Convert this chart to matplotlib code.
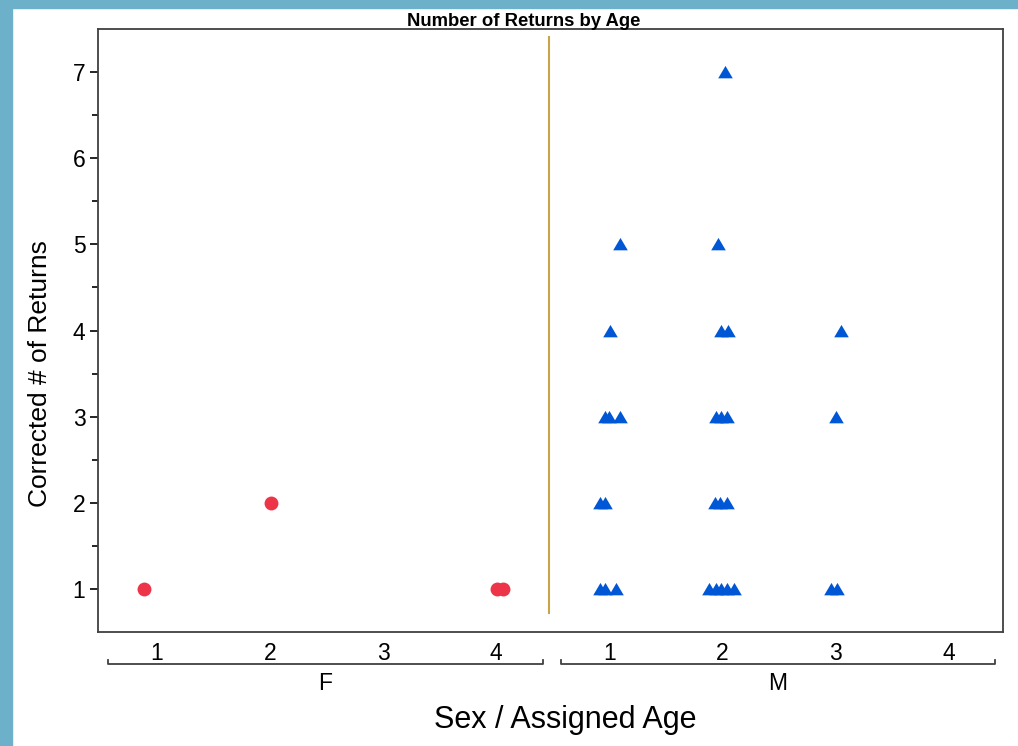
import matplotlib
matplotlib.use("Agg")
import matplotlib.pyplot as plt
import matplotlib.transforms as mtransforms
from matplotlib.patches import Rectangle
import numpy as np

################################################## Data
groups = ["F", "M"]
ages = [1, 2, 3, 4]

# jittered assigned age and corrected # of returns
f_age = [0.885, 2.01, 4.01, 4.06]
f_returns = [1, 2, 1, 1]

m_age = [2.02,
         1.09, 1.96,
         1.01, 1.99, 2.05, 3.05,
         0.96, 1.00, 1.09, 1.94, 1.99, 2.04, 3.00,
         0.92, 0.96, 1.93, 1.98, 2.04,
         0.92, 0.96, 1.06, 1.88, 1.94, 1.99, 2.04, 2.10, 2.96, 3.01]
m_returns = [7,
             5, 5,
             4, 4, 4, 4,
             3, 3, 3, 3, 3, 3, 3,
             2, 2, 2, 2, 2,
             1, 1, 1, 1, 1, 1, 1, 1, 1, 1]

################################################## Style
FONT = "Liberation Sans"
RED = "#ee3448"
BLUE = "#0057d6"
SEP_COLOR = "#c9a54a"
FRAME = "#6cb0c9"
W, H = 1018, 746

plt.rcParams["font.family"] = [FONT, "DejaVu Sans"]

fig = plt.figure(figsize=(W / 100, H / 100), dpi=100)
fig.patch.set_facecolor("white")

# light blue frame on left and top edge
fig.patches.append(Rectangle((0, 0), 12 / W, 1, transform=fig.transFigure,
                             color=FRAME, zorder=0))
fig.patches.append(Rectangle((0, 1 - 8 / H), 1, 8 / H, transform=fig.transFigure,
                             color=FRAME, zorder=0))

ax = fig.add_axes([98 / W, 1 - 632 / H, (1003 - 98) / W, (632 - 29) / H])

n_ages = len(ages)
f_x = np.array(f_age)
m_x = np.array(m_age) + n_ages

ax.plot(f_x, f_returns, "o", color=RED, markersize=10, markeredgewidth=0,
        linestyle="none")

tri = [(-1.0, -0.8), (1.0, -0.8), (0.0, 0.9), (-1.0, -0.8)]
ax.plot(m_x, m_returns, marker=tri, color=BLUE, markersize=10.5,
        markeredgewidth=0, linestyle="none")

# separator between the groups
ax.axvline(n_ages + 0.47, ymin=19 / 603, ymax=(632 - 37) / 603,
           color=SEP_COLOR, lw=1.5)

ax.set_xlim(0.48, 2 * n_ages + 0.48)
ax.set_ylim(0.5, 7.5)

positions = list(range(1, 2 * n_ages + 1))
ax.set_xticks(positions)
ax.set_xticklabels([str(a) for a in ages] * len(groups), fontsize=16.5)
ax.tick_params(axis="x", length=0, pad=7)

ax.set_yticks(range(1, 8))
ax.set_yticks(np.arange(1.5, 7.0, 1.0), minor=True)
ax.tick_params(axis="y", which="major", length=6, width=1.2, labelsize=16.5, pad=3)
ax.tick_params(axis="y", which="minor", length=4, width=1.2)

for s in ax.spines.values():
    s.set_color("#404040")
    s.set_linewidth(1.3)

# group brackets below the tick labels
trans = mtransforms.blended_transform_factory(ax.transData, ax.transAxes)
by = -0.053
hook = 0.006
for i, g in enumerate(groups):
    x0 = i * n_ages + 1 - 0.43
    x1 = (i + 1) * n_ages + 0.41
    ax.plot([x0, x0, x1, x1], [by + hook, by, by, by + hook], color="#404040",
            lw=1.3, transform=trans, clip_on=False)
    ax.text((x0 + x1) / 2, -0.085, g, transform=trans, ha="center",
            va="center", fontsize=16.5)

fig.text(524 / W, 1 - 26 / H, "Number of Returns by Age", ha="center",
         va="baseline", fontsize=13.3, fontweight="bold")

fig.text(565 / W, 1 - 720 / H, "Sex / Assigned Age", ha="center", va="center",
         fontsize=22)
fig.text(40 / W, 1 - 374 / H, "Corrected # of Returns", ha="center",
         va="center", rotation=90, fontsize=19)

plt.savefig("out.png", dpi=100)
